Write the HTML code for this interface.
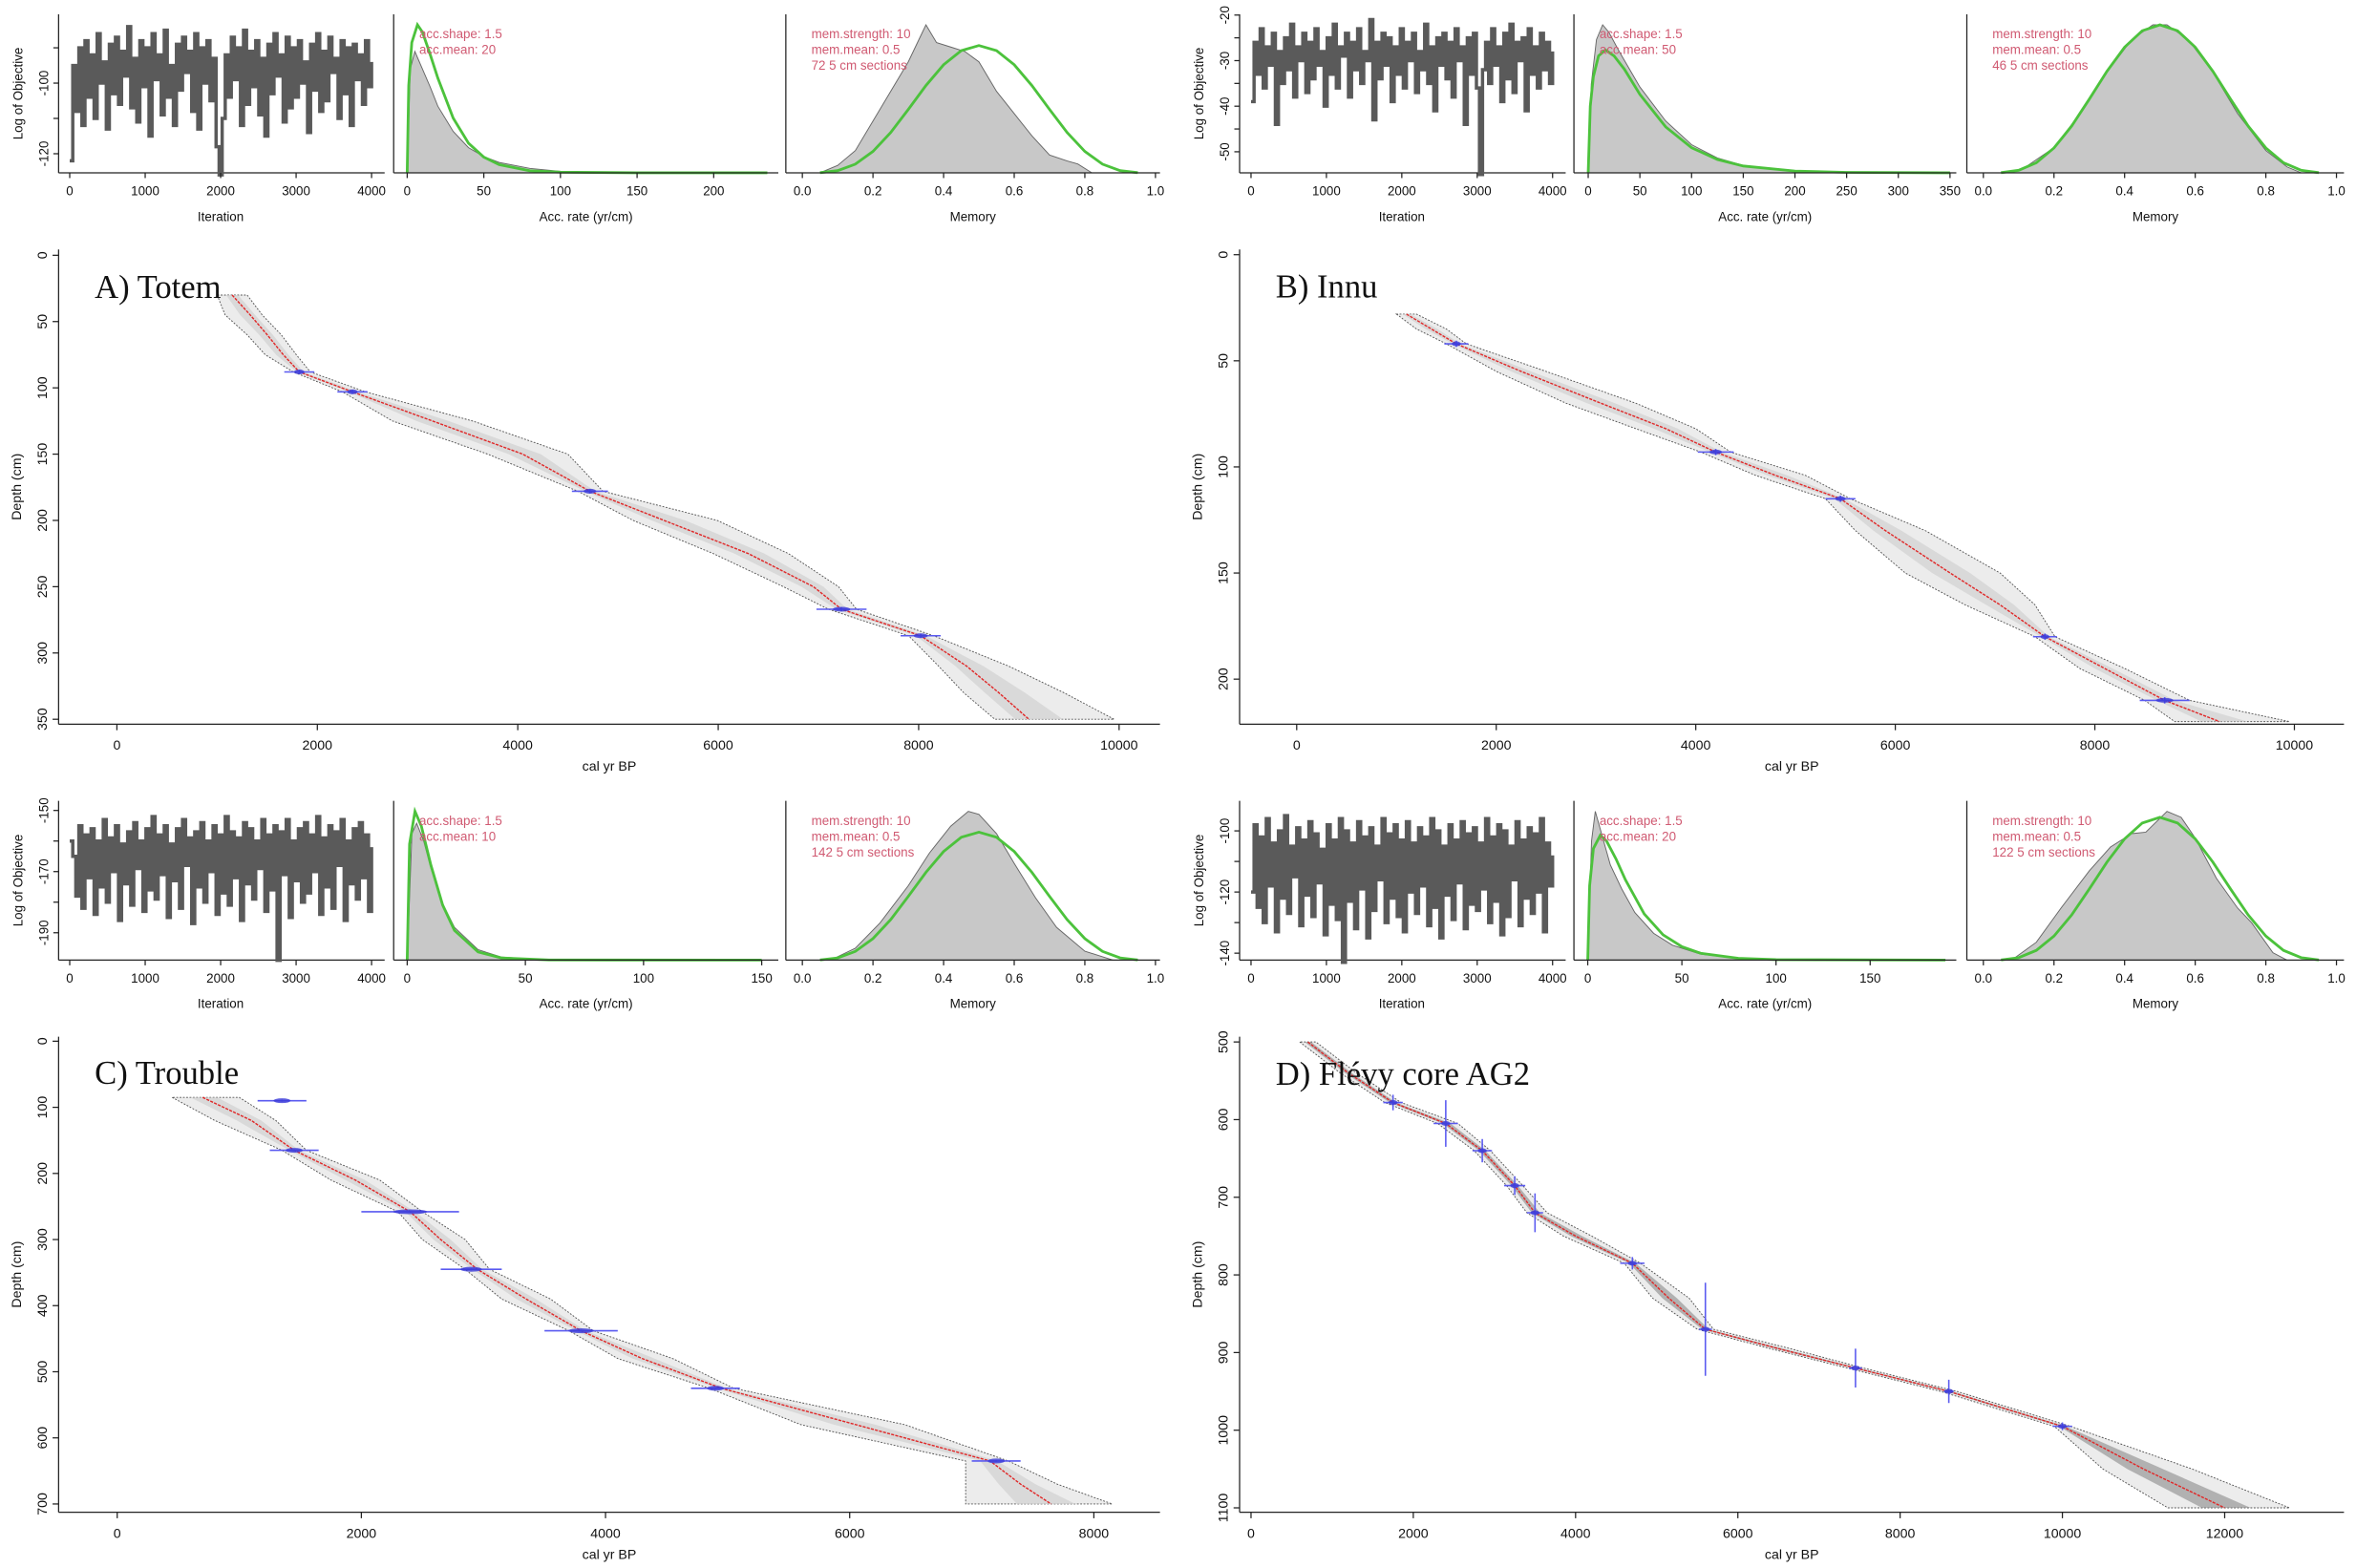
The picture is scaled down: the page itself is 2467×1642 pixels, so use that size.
<!DOCTYPE html>
<html><head><meta charset="utf-8">
<style>
html,body{margin:0;padding:0;background:#fff;}
svg{display:block;}
text{font-family:"Liberation Sans",sans-serif;}
</style></head>
<body>
<svg id="fig" width="2467" height="1642" viewBox="0 0 1568 1043.6" xmlns="http://www.w3.org/2000/svg"></svg>
<script>
// ---------- trace data (Log of Objective) ----------
const traceA = [-122,-95,-108,-90,-112,-88,-104,-92,-110,-86,-100,-94,-113,-89,-103,-87,-106,-91,-98,-84,-107,-93,-111,-88,-101,-90,-115,-86,-99,-92,-109,-85,-104,-95,-112,-89,-102,-87,-97,-91,-108,-86,-113,-90,-100,-88,-105,-93,-118,-126,-110,-92,-104,-87,-99,-90,-112,-85,-106,-91,-101,-88,-109,-93,-115,-89,-103,-86,-98,-92,-111,-87,-107,-90,-104,-88,-100,-94,-114,-89,-102,-86,-108,-91,-105,-87,-97,-93,-110,-88,-103,-90,-112,-89,-99,-92,-106,-88,-101,-94];
const traceB = [-39,-26,-33,-23,-36,-27,-31,-24,-44,-28,-35,-25,-32,-22,-38,-27,-30,-24,-37,-26,-34,-23,-31,-28,-40,-25,-33,-22,-36,-27,-29,-24,-38,-26,-32,-23,-35,-28,-30,-21,-43,-26,-34,-24,-31,-25,-39,-27,-33,-23,-36,-26,-30,-24,-37,-28,-32,-22,-35,-27,-41,-25,-31,-24,-34,-26,-38,-23,-30,-27,-44,-25,-33,-24,-36,-55,-32,-26,-35,-23,-31,-27,-39,-24,-34,-22,-37,-26,-30,-25,-41,-23,-33,-27,-36,-24,-32,-26,-35,-28];
const traceC = [-160,-165,-178,-155,-182,-158,-172,-156,-184,-160,-175,-153,-180,-159,-170,-155,-186,-161,-174,-157,-181,-154,-169,-160,-183,-156,-176,-152,-179,-158,-171,-155,-185,-161,-173,-156,-182,-153,-168,-159,-187,-157,-175,-154,-180,-160,-170,-155,-184,-158,-177,-152,-181,-157,-172,-159,-186,-154,-174,-156,-179,-160,-169,-153,-183,-158,-176,-155,-199,-157,-171,-153,-185,-160,-173,-156,-180,-154,-177,-158,-170,-152,-184,-159,-175,-155,-182,-157,-168,-153,-186,-160,-174,-156,-179,-154,-172,-158,-183,-162];
const traceD = [-120,-98,-125,-102,-130,-96,-118,-104,-133,-100,-122,-95,-127,-105,-115,-99,-131,-103,-121,-97,-128,-101,-117,-106,-134,-98,-124,-103,-129,-96,-143,-100,-123,-104,-132,-97,-119,-102,-135,-99,-126,-105,-116,-96,-130,-101,-122,-98,-128,-103,-133,-97,-120,-104,-127,-99,-118,-102,-131,-96,-125,-100,-135,-105,-121,-98,-129,-103,-117,-97,-132,-101,-124,-99,-126,-104,-119,-96,-130,-102,-123,-98,-134,-100,-128,-105,-116,-97,-131,-103,-122,-99,-127,-101,-120,-96,-133,-104,-118,-108];

// ---------- accumulation-rate densities ----------
const accAx = [0,2,5,10,15,20,30,40,50,60,80,100,120];
const accAgrey = [0,0.7,0.82,0.7,0.58,0.45,0.28,0.17,0.11,0.07,0.03,0.01,0];
const accAgx = [0,1,3,6.7,10,15,20,30,40,50,60,80,100,150,235];
const accAgreen = [0,0.59,0.88,1,0.95,0.8,0.64,0.37,0.2,0.106,0.055,0.014,0.004,0,0];
const accBx = [0,3,8,14,20,30,40,50,75,100,125,150,200,250,300,350];
const accBgrey = [0,0.6,0.9,1,0.95,0.82,0.7,0.58,0.35,0.19,0.1,0.05,0.015,0.005,0.001,0];
const accBgx = [0,2,5,10,16.7,25,35,50,75,100,125,150,200,250,350];
const accBgreen = [0,0.45,0.65,0.79,0.83,0.79,0.7,0.53,0.31,0.17,0.09,0.046,0.012,0.003,0];
const accCx = [0,2,4,7,10,15,20,30,40,60,150];
const accCgrey = [0,0.85,0.92,0.8,0.62,0.38,0.22,0.07,0.02,0,0];
const accCgx = [0,1,3.3,6,10,15,20,30,40,60,150];
const accCgreen = [0,0.78,1,0.9,0.64,0.37,0.2,0.055,0.014,0.001,0];
const accDx = [0,2,4,8,12,18,25,35,45,60,80,100,190];
const accDgrey = [0,0.8,1,0.82,0.64,0.48,0.32,0.18,0.1,0.04,0.01,0,0];
const accDgx = [0,1,3,6.7,10,15,20,30,40,50,60,80,100,190];
const accDgreen = [0,0.5,0.75,0.84,0.8,0.68,0.54,0.31,0.17,0.09,0.046,0.012,0.003,0];

// ---------- memory densities ----------
const memX = [0.05,0.1,0.15,0.2,0.25,0.3,0.35,0.4,0.45,0.5,0.55,0.6,0.65,0.7,0.75,0.8,0.85,0.9,0.95];
const memGreen = [0.001,0.017,0.068,0.168,0.316,0.498,0.686,0.849,0.96,1,0.96,0.849,0.686,0.498,0.316,0.168,0.068,0.017,0.001];
const memAx = [0.05,0.1,0.15,0.2,0.25,0.3,0.33,0.35,0.38,0.42,0.46,0.5,0.55,0.6,0.65,0.7,0.75,0.78,0.82];
const memAgrey = [0,0.05,0.15,0.35,0.55,0.75,0.9,1,0.88,0.85,0.82,0.75,0.55,0.4,0.25,0.12,0.08,0.06,0];
const memAgscale = 0.86;
const memBx = [0.08,0.12,0.2,0.28,0.35,0.42,0.48,0.52,0.58,0.65,0.72,0.8,0.86,0.9];
const memBgrey = [0,0.04,0.17,0.42,0.68,0.9,1,1,0.9,0.68,0.4,0.15,0.04,0];
const memBgscale = 1.0;
const memCx = [0.08,0.15,0.22,0.3,0.36,0.42,0.47,0.5,0.55,0.6,0.66,0.72,0.8,0.88];
const memCgrey = [0,0.08,0.25,0.5,0.72,0.9,1,0.98,0.85,0.65,0.42,0.22,0.06,0];
const memCgscale = 0.86;
const memDx = [0.08,0.15,0.22,0.3,0.36,0.42,0.46,0.52,0.56,0.6,0.66,0.72,0.76,0.82,0.86];
const memDgrey = [0,0.12,0.35,0.6,0.76,0.85,0.86,1,0.96,0.82,0.55,0.35,0.25,0.05,0];
const memDgscale = 0.96;

// ---------- age-depth models ----------
const depthA = [30,45,60,75,88,103,125,150,178,200,225,250,267,287,310,330,350];
const medA = [1150,1330,1500,1660,1820,2350,3150,4050,4720,5460,6300,6950,7230,8020,8480,8800,9100];
const loA = [1000,1080,1300,1480,1760,2250,2750,3700,4600,5150,5950,6650,7100,7900,8200,8450,8760];
const hiA = [1300,1450,1640,1790,1930,2480,3550,4500,4850,5990,6700,7200,7380,8150,8900,9450,9950];
const dateAgeA = [1820,2350,4720,7230,8020];
const dateDepthA = [88,103,178,267,287];
const dateErrA = [150,150,180,250,200];

const depthB = [28,35,42,55,70,82,93,104,115,130,150,165,180,195,210,220];
const medB = [1100,1350,1600,2250,3050,3700,4200,4800,5450,5900,6550,7050,7500,8100,8700,9250];
const loB = [1000,1200,1500,2000,2700,3400,4050,4600,5300,5600,6100,6700,7400,7850,8500,8800];
const hiB = [1200,1500,1700,2500,3400,4000,4350,5100,5550,6300,7050,7400,7600,8300,8950,9950];
const dateAgeB = [1600,4200,5450,7500,8700];
const dateDepthB = [42,93,115,180,210];
const dateErrB = [120,180,150,120,250];

const depthC = [85,120,165,210,258,300,345,390,438,480,525,580,635,670,700];
const medC = [700,1100,1450,1950,2400,2650,2950,3350,3800,4300,4950,6050,7150,7400,7650];
const loC = [450,800,1350,1750,2300,2500,2850,3150,3700,4100,4850,5600,6950,6950,6950];
const hiC = [1000,1300,1550,2150,2500,2850,3050,3550,3900,4550,5050,6450,7300,7700,8150];
const dateAgeC = [1350,1450,2400,2900,3800,4900,7200];
const dateDepthC = [90,165,258,345,438,525,635];
const dateErrC = [200,200,400,250,300,200,200];

const depthD = [500,540,578,605,640,685,720,750,785,830,870,895,920,950,995,1050,1100];
const medD = [700,1200,1750,2400,2850,3250,3500,4000,4700,5150,5600,6500,7450,8600,10000,11000,12000];
const loD = [600,1100,1650,2300,2750,3150,3400,3850,4600,4950,5500,6400,7350,8500,9900,10500,11300];
const hiD = [800,1300,1850,2550,2950,3350,3650,4200,4800,5400,5700,6650,7550,8700,10100,11600,12800];
const dateAgeD = [1750,2400,2850,3250,3500,4700,5600,7450,8600,10000];
const dateDepthD = [578,605,640,685,720,785,870,920,950,995];
const dateErrD = [120,150,120,130,100,150,80,80,60,120];
const dateVErrD = [10,30,15,12,25,8,60,25,15,5];

// ---------- helpers ----------
const NS = "http://www.w3.org/2000/svg";
const svg = document.getElementById('fig');
function el(tag, attrs, parent) {
  const e = document.createElementNS(NS, tag);
  for (const k in attrs) e.setAttribute(k, attrs[k]);
  (parent || svg).appendChild(e);
  return e;
}
function txt(parent, x, y, s, size, opts) {
  opts = opts || {};
  const t = el('text', {x: x, y: y, 'font-size': size, fill: opts.fill || '#111', 'text-anchor': opts.anchor || 'middle'}, parent);
  if (opts.rot) t.setAttribute('transform', 'rotate(-90 ' + x + ' ' + y + ')');
  if (opts.family) t.setAttribute('style', 'font-family:' + opts.family);
  t.textContent = s;
  return t;
}
function line(parent, x1, y1, x2, y2, stroke, w) {
  return el('line', {x1: x1, y1: y1, x2: x2, y2: y2, stroke: stroke || '#222', 'stroke-width': w || 0.8}, parent);
}

// ---------- trace panel ----------
function tracePanel(name, data, x0, x4000, axL, axR, base, top, vRef, yRef, perUnit, tickVals, labelVals) {
  const g = el('g', {});
  
  
  const sx = it => x0 + (x4000 - x0) * it / 4000;
  const sy = v => yRef + (vRef - v) * perUnit;
  line(g, axL, top, axL, base);
  line(g, axL, base, axR, base);
  let d = '';
  data.forEach((v, i) => {
    const x = sx(i * 4000 / (data.length - 1)).toFixed(2);
    d += (i ? ' H' + x + ' V' : 'M' + x + ',') + sy(v).toFixed(2);
  });
  const pl = el('path', {d: d, fill: 'none', stroke: '#5a5a5a', 'stroke-width': 2.2}, g);
  
  
  tickVals.forEach(v => {
    const y = sy(v);
    line(g, axL - 3.5, y, axL, y);
    if (labelVals.indexOf(v) >= 0) txt(g, axL - 7, y, String(v), 8.5, {rot: true});
  });
  [0, 1000, 2000, 3000, 4000].forEach(v => {
    line(g, sx(v), base, sx(v), base + 3.5);
    txt(g, sx(v), base + 15, String(v), 8.5);
  });
  txt(g, (x0 + x4000) / 2, base + 32, 'Iteration', 8.5);
  txt(g, axL - 24, (top + base) / 2, 'Log of Objective', 8.5, {rot: true});
}

// ---------- density panel ----------
function densPanel(name, xs, grey, gxs, green, gscale, x0, perUnit, axL, axR, base, top, ticks, tickFmt, xlabel, notes) {
  const g = el('g', {});
  
  
  const h = base - top - 7;
  const sx = v => x0 + v * perUnit;
  const sy = v => base - v * h;
  let d = 'M' + sx(xs[0]) + ',' + base;
  xs.forEach((x, i) => { d += ' L' + sx(x).toFixed(2) + ',' + sy(grey[i]).toFixed(2); });
  d += ' L' + sx(xs[xs.length - 1]) + ',' + base + ' Z';
  const p = el('path', {d: d, fill: '#c8c8c8', stroke: '#666', 'stroke-width': 0.6}, g);
  
  
  const gp = gxs.map((x, i) => sx(x).toFixed(2) + ',' + sy(green[i] * gscale).toFixed(2)).join(' ');
  const pg = el('polyline', {points: gp, fill: 'none', stroke: '#4cc23c', 'stroke-width': 1.8}, g);
  
  
  line(g, axL, top, axL, base);
  line(g, axL, base, axR, base);
  ticks.forEach(v => {
    line(g, sx(v), base, sx(v), base + 3.5);
    txt(g, sx(v), base + 15, tickFmt(v), 8.5);
  });
  txt(g, (axL + axR) / 2, base + 32, xlabel, 8.5);
  notes.forEach((s, i) => txt(g, axL + 17, top + 16 + i * 10.5, s, 8.5, {anchor: 'start', fill: '#d05a72'}));
}

// ---------- main age-depth panel ----------
function mainPanel(name, title, depth, med, lo, hi, dAge, dDepth, dErr, dVErr, ax0, axPer, dy0, d0, dyPer, axL, axR, axTop, axBase, xticks, yticks, dark) {
  const g = el('g', {});
  
  
  const sx = a => ax0 + a * axPer;
  const sy = d => dy0 + (d - d0) * dyPer;
  let env = '';
  depth.forEach((d, i) => { env += (i ? ' L' : 'M') + sx(lo[i]).toFixed(2) + ',' + sy(d).toFixed(2); });
  for (let i = depth.length - 1; i >= 0; i--) env += ' L' + sx(hi[i]).toFixed(2) + ',' + sy(depth[i]).toFixed(2);
  env += ' Z';
  const ep = el('path', {d: env, fill: '#ececec', stroke: '#555', 'stroke-width': 0.6, 'stroke-dasharray': '1.2,1'}, g);
  
  
  let inner = '';
  depth.forEach((d, i) => { inner += (i ? ' L' : 'M') + sx(med[i] - (med[i] - lo[i]) * 0.4).toFixed(2) + ',' + sy(d).toFixed(2); });
  for (let i = depth.length - 1; i >= 0; i--) inner += ' L' + sx(med[i] + (hi[i] - med[i]) * 0.4).toFixed(2) + ',' + sy(depth[i]).toFixed(2);
  inner += ' Z';
  const ip = el('path', {d: inner, fill: dark ? '#8a8a8a' : '#d2d2d2', opacity: dark ? 0.6 : 0.7}, g);
  
  
  const mp = depth.map((d, i) => sx(med[i]).toFixed(2) + ',' + sy(d).toFixed(2)).join(' ');
  const ml = el('polyline', {points: mp, fill: 'none', stroke: '#e02828', 'stroke-width': 0.9, 'stroke-dasharray': '2,0.8'}, g);
  
  
  dAge.forEach((a, i) => {
    const dg = el('g', {}, g);
    
    
    const x = sx(a), y = sy(dDepth[i]);
    line(dg, sx(a - dErr[i]), y, sx(a + dErr[i]), y, '#5a5af0', 1);
    const ve = dVErr ? dVErr[i] : 1.5;
    line(dg, x, sy(dDepth[i] - ve), x, sy(dDepth[i] + ve), '#5a5af0', 1);
    el('ellipse', {cx: x, cy: y, rx: Math.max(3, dErr[i] * axPer * 0.35), ry: 1.6, fill: '#3a3ad8', opacity: 0.8}, dg);
  });
  line(g, axL, axTop, axL, axBase);
  line(g, axL, axBase, axR, axBase);
  xticks.forEach(v => {
    line(g, sx(v), axBase, sx(v), axBase + 4);
    txt(g, sx(v), axBase + 17, String(v), 9);
  });
  yticks.forEach(v => {
    line(g, axL - 4, sy(v), axL, sy(v));
    txt(g, axL - 8, sy(v), String(v), 9, {rot: true});
  });
  txt(g, (axL + axR) / 2, axBase + 31, 'cal yr BP', 9);
  txt(g, axL - 25, (axTop + axBase) / 2, 'Depth (cm)', 9, {rot: true});
  const t = txt(g, axL + 24, sy(d0) + (axBase - axTop) * 0.09, title, 22, {anchor: 'start', family: '"Liberation Serif",serif'});
  
  
}

// ---------- build ----------
const f0 = v => String(v);
const f1 = v => v.toFixed(1);
tracePanel('trace-totem', traceA, 46.4, 247.3, 39, 256, 115, 9.5, -100, 55.3, 2.35, [-90,-100,-110,-120], [-100,-120]);
densPanel('acc-rate-totem', accAx, accAgrey, accAgx, accAgreen, 1, 271, 1.02, 262, 518, 115, 9.5, [0,50,100,150,200], f0, 'Acc. rate (yr/cm)', ['acc.shape:  1.5','acc.mean:  20']);
densPanel('memory-totem', memAx, memAgrey, memX, memGreen, memAgscale, 534, 235, 523, 772, 115, 9.5, [0,0.2,0.4,0.6,0.8,1.0], f1, 'Memory', ['mem.strength: 10','mem.mean: 0.5','72 5 cm sections']);
tracePanel('trace-innu', traceB, 832.6, 1033.3, 825, 1042, 115, 9.5, -20, 10, 3.033, [-20,-25,-30,-35,-40,-45,-50], [-20,-30,-40,-50]);
densPanel('acc-rate-innu', accBx, accBgrey, accBgx, accBgreen, 1, 1057, 0.688, 1047.5, 1302, 115, 9.5, [0,50,100,150,200,250,300,350], f0, 'Acc. rate (yr/cm)', ['acc.shape:  1.5','acc.mean:  50']);
densPanel('memory-innu', memBx, memBgrey, memX, memGreen, memBgscale, 1320, 235, 1309, 1560, 115, 9.5, [0,0.2,0.4,0.6,0.8,1.0], f1, 'Memory', ['mem.strength: 10','mem.mean: 0.5','46 5 cm sections']);
mainPanel('age-depth-totem', 'A) Totem', depthA, medA, loA, hiA, dateAgeA, dateDepthA, dateErrA, null, 77.8, 0.0667, 169.9, 0, 0.8823, 39, 772, 166, 482, [0,2000,4000,6000,8000,10000], [0,50,100,150,200,250,300,350], false);
mainPanel('age-depth-innu', 'B) Innu', depthB, medB, loB, hiB, dateAgeB, dateDepthB, dateErrB, null, 863, 0.0664, 169.5, 0, 1.4125, 825, 1560, 166, 482, [0,2000,4000,6000,8000,10000], [0,50,100,150,200], false);
tracePanel('trace-trouble', traceC, 46.4, 247.3, 39, 256, 639, 533, -150, 539.4, 2.035, [-150,-160,-170,-180,-190], [-150,-170,-190]);
densPanel('acc-rate-trouble', accCx, accCgrey, accCgx, accCgreen, 1, 271, 1.573, 262, 518, 639, 533, [0,50,100,150], f0, 'Acc. rate (yr/cm)', ['acc.shape:  1.5','acc.mean:  10']);
densPanel('memory-trouble', memCx, memCgrey, memX, memGreen, memCgscale, 534, 235, 523, 772, 639, 533, [0,0.2,0.4,0.6,0.8,1.0], f1, 'Memory', ['mem.strength: 10','mem.mean: 0.5','142 5 cm sections']);
tracePanel('trace-flevy', traceD, 832.6, 1033.3, 825, 1042, 639, 533, -100, 553, 2.035, [-100,-110,-120,-130,-140], [-100,-120,-140]);
densPanel('acc-rate-flevy', accDx, accDgrey, accDgx, accDgreen, 1, 1056.7, 1.253, 1047.5, 1302, 639, 533, [0,50,100,150], f0, 'Acc. rate (yr/cm)', ['acc.shape:  1.5','acc.mean:  20']);
densPanel('memory-flevy', memDx, memDgrey, memX, memGreen, memDgscale, 1320, 235, 1309, 1560, 639, 533, [0,0.2,0.4,0.6,0.8,1.0], f1, 'Memory', ['mem.strength: 10','mem.mean: 0.5','122 5 cm sections']);
mainPanel('age-depth-trouble', 'C) Trouble', depthC, medC, loC, hiC, dateAgeC, dateDepthC, dateErrC, null, 78, 0.08125, 693, 0, 0.44, 39, 772, 690, 1006.5, [0,2000,4000,6000,8000], [0,100,200,300,400,500,600,700], false);
mainPanel('age-depth-flevy', 'D) Flévy core AG2', depthD, medD, loD, hiD, dateAgeD, dateDepthD, dateErrD, dateVErrD, 832.6, 0.054, 693.5, 500, 0.5168, 825, 1560, 690, 1006.5, [0,2000,4000,6000,8000,10000,12000], [500,600,700,800,900,1000,1100], true);
</script>
</body></html>
